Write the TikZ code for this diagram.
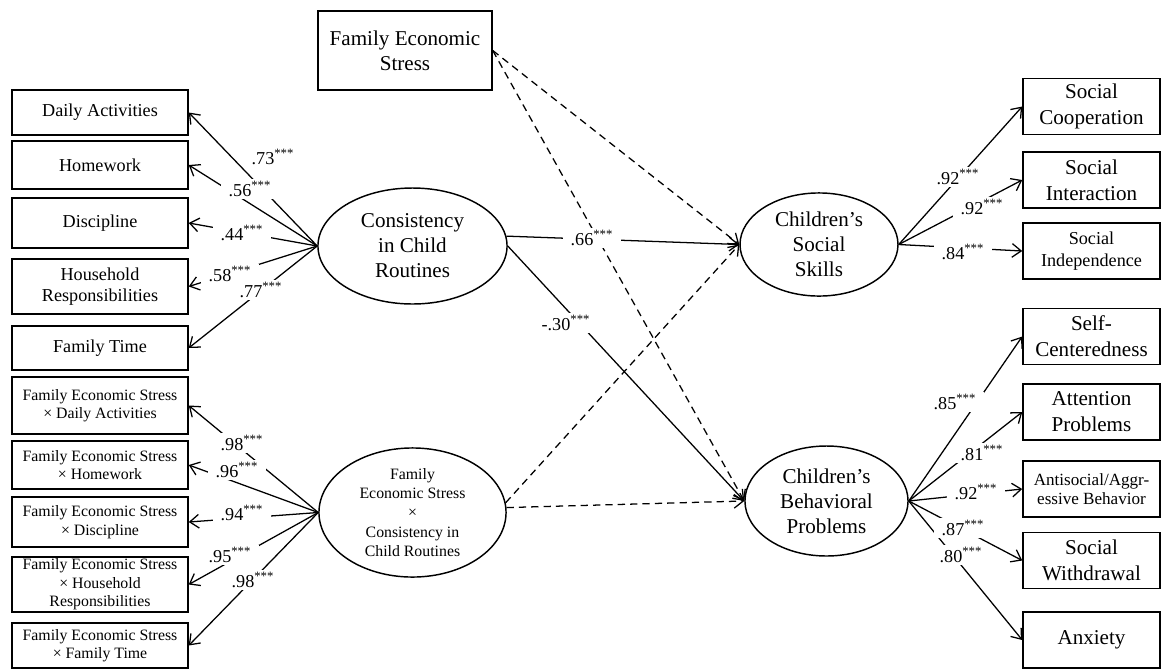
\documentclass[tikz,border=0pt]{standalone}
\usepackage{fontspec}
\setmainfont{Liberation Serif}
\usetikzlibrary{arrows.meta,shapes.geometric}

\begin{document}
\begin{tikzpicture}[x=0.55pt,y=-0.55pt,
  obs/.style={draw,line width=0.8pt,rectangle,inner sep=0.5pt,align=center},
  leftobs/.style={obs,minimum width=96.8pt,font=\fontsize{10}{11.7}\selectfont},
  intobs/.style={obs,minimum width=96.8pt,font=\fontsize{8.7}{10.2}\selectfont},
  rightobs/.style={obs,minimum width=75.4pt,minimum height=30.8pt,font=\fontsize{11.6}{14.3}\selectfont},
  latent/.style={draw,line width=0.8pt,ellipse,inner sep=0pt,align=center,font=\fontsize{11.6}{13.8}\selectfont},
  path/.style={line width=0.7pt,-{Straight Barb[length=5pt,width=7.5pt]}},
  modpath/.style={path,dash pattern=on 4pt off 2.8pt},
  coef/.style={fill=white,inner xsep=4pt,inner ysep=1.5pt,font=\fontsize{10}{12}\selectfont}]

\useasboundingbox (0,0) rectangle (1161,669);

% indicators of the routines
\node[leftobs,minimum height=24.8pt] (da) at (100,112.5) {Daily Activities};
\node[leftobs,minimum height=26.4pt] (hw) at (100,165) {Homework};
\node[leftobs,minimum height=27.5pt] (dc) at (100,223) {Discipline};
\node[leftobs,minimum height=30.3pt] (hr) at (100,286.5) {Household\\Responsibilities};
\node[leftobs,minimum height=24.2pt] (ft) at (100,348) {Family Time};

\node[intobs,minimum height=31.4pt] (xda) at (100,405.5) {Family Economic Stress\\× Daily Activities};
\node[intobs,minimum height=26.4pt] (xhw) at (100,465) {Family Economic Stress\\× Homework};
\node[intobs,minimum height=27.5pt] (xdc) at (100,522) {Family Economic Stress\\× Discipline};
\node[intobs,minimum height=30.3pt] (xhr) at (100,584.5) {Family Economic Stress\\× Household\\Responsibilities};
\node[intobs,minimum height=24.8pt] (xft) at (100,645.5) {Family Economic Stress\\× Family Time};

% latent variables
\node[obs,minimum width=95.7pt,minimum height=43.5pt,font=\fontsize{11.6}{13.8}\selectfont] (fes) at (405,50.5) {Family Economic\\Stress};
\node[latent,minimum width=104pt,minimum height=63.8pt] (cons) at (412.5,246) {Consistency\\in Child\\Routines};
\node[latent,minimum width=102.9pt,minimum height=71pt,font=\fontsize{8.7}{10.5}\selectfont] (inter) at (412.5,512.5) {Family\\Economic Stress\\×\\Consistency in\\Child Routines};
\node[latent,minimum width=86.9pt,minimum height=56.7pt] (ss) at (819,244.5) {Children’s\\Social\\Skills};
\node[latent,minimum width=89.7pt,minimum height=60.5pt] (bp) at (826.5,501) {Children’s\\Behavioral\\Problems};

% outcome indicators
\node[rightobs] (sc) at (1091.5,106.5) {Social\\Cooperation};
\node[rightobs] (si) at (1091.5,180) {Social\\Interaction};
\node[rightobs,font=\fontsize{10}{11.7}\selectfont] (sn) at (1091.5,251) {Social\\Independence};
\node[rightobs] (sf) at (1091.5,336.5) {Self-\\Centeredness};
\node[rightobs] (ap) at (1091.5,412) {Attention\\Problems};
\node[rightobs,font=\fontsize{9.4}{10.5}\selectfont] (ab) at (1091.5,489) {Antisocial/Aggr-\\essive Behavior};
\node[rightobs] (sw) at (1091.5,560.5) {Social\\Withdrawal};
\node[rightobs] (ax) at (1091.5,640) {Anxiety};

\foreach \b in {da,hw,dc,hr,ft} \draw[path] (cons.west) -- (\b.east);
\foreach \b in {xda,xhw,xdc,xhr,xft} \draw[path] (inter.west) -- (\b.east);
\foreach \b in {sc,si,sn} \draw[path] (ss.east) -- (\b.west);
\foreach \b in {sf,ap,ab,sw,ax} \draw[path] (bp.east) -- (\b.west);

\draw[path] (cons.6) -- (ss.west);
\draw[path] (cons.east) -- (bp.west);
\draw[modpath] (fes.east) -- (ss.west);
\draw[modpath] (fes.east) -- (bp.west);
\draw[modpath] (inter.6) -- (ss.west);
\draw[modpath] (inter.3) -- (bp.west);

% coefficients
\node[coef] (c1) at (273,157) {.73\textsuperscript{***}};
\node[coef] (c2) at (250,189) {.56\textsuperscript{***}};
\node[coef] (c3) at (242,233) {.44\textsuperscript{***}};
\node[coef] (c4) at (230,274) {.58\textsuperscript{***}};
\node[coef] (c5) at (261,290) {.77\textsuperscript{***}};
\node[coef] (c6) at (242,443) {.98\textsuperscript{***}};
\node[coef] (c7) at (237,470) {.96\textsuperscript{***}};
\node[coef] (c8) at (242,513) {.94\textsuperscript{***}};
\node[coef] (c9) at (230,555) {.95\textsuperscript{***}};
\node[coef] (c10) at (253,580) {.98\textsuperscript{***}};
\node[coef] (c11) at (592,238) {.66\textsuperscript{***}};
\node[coef] (c12) at (566,323) {-.30\textsuperscript{***}};
\node[coef] (c13) at (958,177) {.92\textsuperscript{***}};
\node[coef] (c14) at (982,207) {.92\textsuperscript{***}};
\node[coef] (c15) at (963,252) {.84\textsuperscript{***}};
\node[coef] (c16) at (955,402) {.85\textsuperscript{***}};
\node[coef] (c17) at (982,453) {.81\textsuperscript{***}};
\node[coef] (c18) at (976,492) {.92\textsuperscript{***}};
\node[coef] (c19) at (963,528) {.87\textsuperscript{***}};
\node[coef] (c20) at (961,555) {.80\textsuperscript{***}};
\end{tikzpicture}
\end{document}
